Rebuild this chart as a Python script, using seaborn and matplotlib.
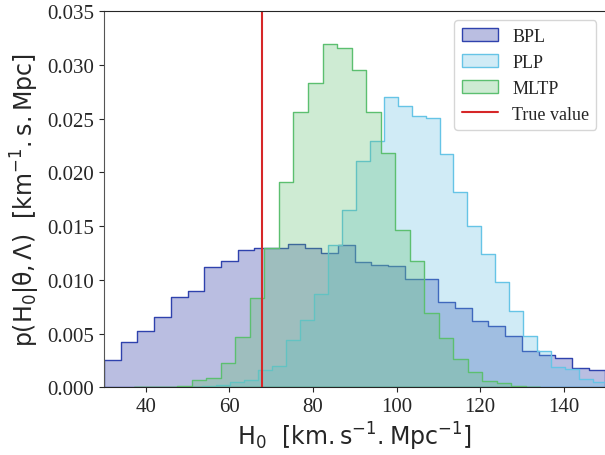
import numpy as np
import pandas as pd
import matplotlib
matplotlib.use("Agg")
import matplotlib.pyplot as plt
from matplotlib.colors import to_rgba
from matplotlib.ticker import FormatStrFormatter
import seaborn as sns

# ---------------- data ----------------
bpl_start, bpl_width = 30.0, 4.0
bpl_heights = [0.0025, 0.0042, 0.0052, 0.0065, 0.0084, 0.0090, 0.0112, 0.0118,
               0.0128, 0.0130, 0.0130, 0.0133, 0.0130, 0.0125, 0.0132, 0.0117,
               0.0114, 0.0113, 0.0101, 0.0101, 0.0079, 0.0074, 0.0062, 0.0057,
               0.0048, 0.0034, 0.0030, 0.0027, 0.0018, 0.0016]

plp_start, plp_width = 50.07, 3.345
plp_heights = [0.00005, 0.0001, 0.0002, 0.0005, 0.0007, 0.0016, 0.0020, 0.0044,
               0.0063, 0.0087, 0.0132, 0.0165, 0.0211, 0.0229, 0.0270, 0.0262,
               0.0253, 0.0251, 0.0217, 0.0182, 0.0150, 0.0124, 0.0098, 0.0071,
               0.0048, 0.0034, 0.0019, 0.0017, 0.0008, 0.0005]

mltp_start, mltp_width = 37.10, 3.476
mltp_heights = [0.00002, 0.00005, 0.00005, 0.00015, 0.0007, 0.0009, 0.0023, 0.0047,
                0.0083, 0.0130, 0.0191, 0.0256, 0.0283, 0.0320, 0.0316, 0.0295,
                0.0256, 0.0218, 0.0146, 0.0118, 0.0069, 0.0046, 0.0026, 0.0014,
                0.0006, 0.0004, 0.00015, 0.00005]

series_names = ["BPL", "PLP", "MLTP"]
true_value = 67.74
true_label = "True value"

x_ticks = [40, 60, 80, 100, 120, 140]
y_ticks = [0.000, 0.005, 0.010, 0.015, 0.020, 0.025, 0.030, 0.035]
x_label = r"$H_0$  [$km.s^{-1}.Mpc^{-1}$]"
y_label = r"$p(H_0|\theta, \Lambda)$  [$km^{-1}.s.Mpc$]"

# ---------------- style ----------------
sns.set_style("ticks")
plt.rcParams["font.family"] = ["Liberation Serif", "DejaVu Serif"]
plt.rcParams["mathtext.fontset"] = "dejavusans"
plt.rcParams["mathtext.default"] = "regular"

edge_colors = {"BPL": "#2f42ad", "PLP": "#66c4e6", "MLTP": "#5cbf70"}
face_colors = {"BPL": to_rgba("#1c2a9c", 0.3),
               "PLP": to_rgba("#66c0e4", 0.3),
               "MLTP": to_rgba("#5fc070", 0.3)}

fig = plt.figure(figsize=(6.05, 4.56), dpi=100)
ax = fig.add_axes([104 / 605, 1 - 388.3 / 456, (605.5 - 104) / 605, (388.3 - 12.3) / 456])

specs = [("BPL", bpl_start, bpl_width, bpl_heights),
         ("PLP", plp_start, plp_width, plp_heights),
         ("MLTP", mltp_start, mltp_width, mltp_heights)]

for name, start, width, heights in specs:
    n = len(heights)
    edges = start + width * np.arange(n + 1)
    centers = (edges[:-1] + edges[1:]) / 2
    df = pd.DataFrame({"H0": centers, "w": heights})
    sns.histplot(data=df, x="H0", weights="w", bins=edges.tolist(), element="step",
                 fill=True, stat="count", ax=ax, label=name,
                 facecolor=face_colors[name], edgecolor=edge_colors[name],
                 linewidth=1.0)

ax.axvline(true_value, color="#d62728", lw=1.5, label=true_label)

ax.set_xlim(30, 150)
ax.set_ylim(0, 0.035)
ax.set_xticks(x_ticks)
ax.set_yticks(y_ticks)
ax.yaxis.set_major_formatter(FormatStrFormatter("%.3f"))
ax.tick_params(axis="both", labelsize=15, length=3.5, width=0.8)
ax.spines["left"].set_color("#555555")
ax.set_xlabel(x_label, fontsize=17, fontfamily="DejaVu Sans", labelpad=3)
ax.set_ylabel(y_label, fontsize=17, fontfamily="DejaVu Sans", labelpad=4)

leg = ax.legend(loc="upper right", fontsize=13, frameon=True, fancybox=True,
                borderaxespad=0.5)
leg.get_frame().set_edgecolor("#cccccc")

fig.savefig("out.png", dpi=100)
